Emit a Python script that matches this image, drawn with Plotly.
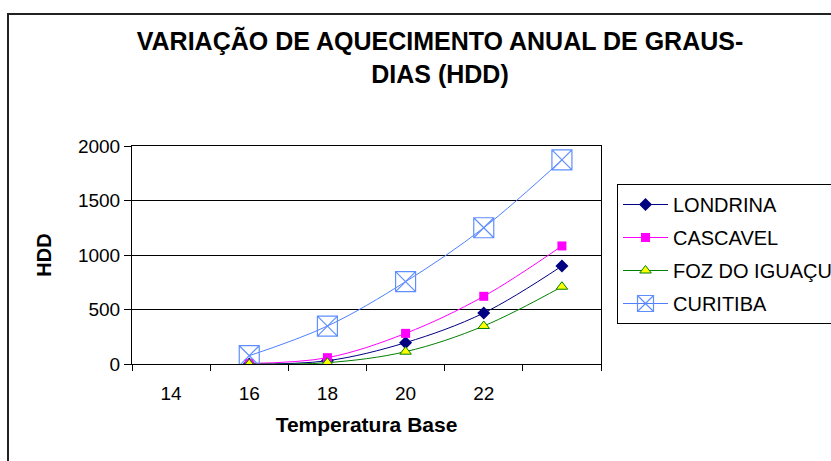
import plotly.graph_objects as go

# ---- data ----
temps = [16, 18, 20, 22, 24]
tick_vals = [14, 16, 18, 20, 22]
tick_text = ["14", "16", "18", "20", "22"]
londrina = [0, 30, 196, 468, 899]
cascavel = [5, 58, 281, 621, 1083]
foz = [0, 12, 113, 349, 709]
curitiba = [76, 348, 755, 1250, 1872]

W, H = 831, 461
L, R, T, B = 132, 601, 146, 364

FONT = "Liberation Sans, Arial, sans-serif"

fig = go.Figure()

fig.add_trace(go.Scatter(
    x=temps, y=londrina, name="LONDRINA", mode="lines+markers",
    line=dict(color="#000080", width=1, shape="spline"),
    marker=dict(symbol="diamond", size=10, color="#000080"),
    legendgroup="a"))
fig.add_trace(go.Scatter(
    x=temps, y=cascavel, name="CASCAVEL", mode="lines+markers",
    line=dict(color="#FF00FF", width=1, shape="spline"),
    marker=dict(symbol="square", size=9, color="#FF00FF"),
    legendgroup="b"))
fig.add_trace(go.Scatter(
    x=temps, y=foz, name="FOZ DO IGUAÇU", mode="lines+markers",
    line=dict(color="#008000", width=1, shape="spline"),
    marker=dict(symbol="triangle-up", size=10, color="#FFFF00",
                line=dict(color="#008000", width=1)),
    legendgroup="c"))
fig.add_trace(go.Scatter(
    x=temps, y=curitiba, name="CURITIBA", mode="lines+markers",
    line=dict(color="#4F7FFF", width=1, shape="spline"),
    marker=dict(symbol="square-x-open", size=20, color="#5F8FFF",
                line=dict(width=1.2)),
    legendgroup="d"))

pw = R - L
ph = B - T

def px_x(p):
    return (p - L) / pw

def px_y(p):
    return (B - p) / ph

fig.update_layout(
    width=W, height=H,
    margin=dict(l=L, r=W - R, t=T, b=H - B, pad=0, autoexpand=False),
    paper_bgcolor="white", plot_bgcolor="white",
    font=dict(family=FONT, color="black", size=19),
    title=dict(
        text="<b>VARIAÇÃO DE AQUECIMENTO ANUAL DE GRAUS-<br>DIAS (HDD)</b>",
        font=dict(family=FONT, size=25, color="black"),
        x=440 / W, xanchor="center", xref="container",
        y=1 - 50 / H, yanchor="top", yref="container"),
    showlegend=True,
    legend=dict(
        x=px_x(617), y=px_y(184), xanchor="left", yanchor="top",
        bordercolor="black", borderwidth=1, bgcolor="white",
        font=dict(family=FONT, size=20, color="black"),
        traceorder="grouped", tracegroupgap=4,
        itemsizing="trace", itemwidth=45),
    shapes=[dict(type="rect", xref="paper", yref="paper",
                 x0=px_x(8), x1=px_x(900), y0=px_y(14), y1=px_y(520),
                 line=dict(color="#222222", width=2), layer="below")],
)

fig.update_xaxes(
    range=[13, 25], tickvals=tick_vals, ticktext=tick_text,
    ticks="", showgrid=False, zeroline=False,
    showline=True, linecolor="black", linewidth=1, mirror=True,
    ticklabelstandoff=12,
    tickfont=dict(family=FONT, size=19),
    minor=dict(tickvals=[13, 15, 17, 19, 21, 23, 25], ticks="outside",
               ticklen=6, tickcolor="black", showgrid=False),
    title=dict(text="<b>Temperatura Base</b>",
               font=dict(family=FONT, size=21), standoff=14),
)
fig.update_yaxes(
    range=[0, 2000], dtick=500, tick0=0,
    ticks="outside", ticklen=7, tickcolor="black",
    showgrid=True, gridcolor="black", gridwidth=1, zeroline=False,
    showline=True, linecolor="black", linewidth=1, mirror=True,
    tickfont=dict(family=FONT, size=19),
    title=dict(text="<b>HDD</b>", font=dict(family=FONT, size=20), standoff=20),
)

fig.write_html("out.html")
